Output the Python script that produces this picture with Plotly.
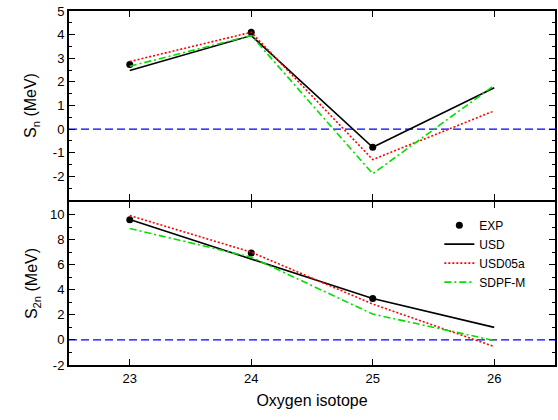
import plotly.graph_objects as go
from plotly.subplots import make_subplots

isotopes = [23, 24, 25, 26]
exp_iso = [23, 24, 25]

sn_exp = [2.74, 4.10, -0.77]
sn_usd = [2.48, 3.96, -0.77, 1.75]
sn_usd05a = [2.86, 4.10, -1.29, 0.77]
sn_sdpfm = [2.66, 3.96, -1.89, 1.85]

s2n_exp = [9.58, 6.93, 3.31]
s2n_usd = [9.60, 6.48, 3.30, 1.00]
s2n_usd05a = [9.92, 7.00, 2.86, -0.53]
s2n_sdpfm = [8.89, 6.60, 2.06, -0.05]

top_ticks = [5, 4, 3, 2, 1, 0, -1, -2]
bot_ticks = [10, 8, 6, 4, 2, 0, -2]
x_ticks = [23, 24, 25, 26]

fig = make_subplots(rows=2, cols=1, shared_xaxes=True, vertical_spacing=0)

FONT = "Liberation Sans, Arial, sans-serif"

def add_set(row, exp, usd, usd05a, sdpfm, show):
    fig.add_trace(go.Scatter(x=exp_iso, y=exp, mode="markers", name="EXP",
                             marker=dict(color="black", size=7),
                             showlegend=show, legendrank=1), row=row, col=1)
    fig.add_trace(go.Scatter(x=isotopes, y=usd, mode="lines", name="USD",
                             line=dict(color="black", width=1.6),
                             showlegend=show, legendrank=2), row=row, col=1)
    fig.add_trace(go.Scatter(x=isotopes, y=usd05a, mode="lines", name="USD05a",
                             line=dict(color="#ff0000", width=1.6, dash="2px,2px"),
                             showlegend=show, legendrank=3), row=row, col=1)
    fig.add_trace(go.Scatter(x=isotopes, y=sdpfm, mode="lines", name="SDPF-M",
                             line=dict(color="#00e000", width=1.6, dash="7px,3px,2px,3px"),
                             showlegend=show, legendrank=4), row=row, col=1)

add_set(1, sn_exp, sn_usd, sn_usd05a, sn_sdpfm, False)
add_set(2, s2n_exp, s2n_usd, s2n_usd05a, s2n_sdpfm, True)

for xr, yr in [("x domain", "y"), ("x2 domain", "y2")]:
    fig.add_shape(type="line", xref=xr, yref=yr, x0=0, x1=1, y0=0, y1=0,
                  line=dict(color="#0000ff", width=1.4, dash="8px,4px"), layer="below")

axis_common = dict(showline=True, linecolor="black", linewidth=2, mirror="allticks",
                   ticks="inside", tickcolor="black", showgrid=False, zeroline=False,
                   tickfont=dict(family=FONT, size=13, color="black"))

PH = 354.0
bot_top = 163 / PH
top_bot = 165 / PH

fig.update_xaxes(range=[22.5, 26.5], tickvals=x_ticks, ticklen=6, tickwidth=1.2, **axis_common)
fig.update_xaxes(showticklabels=False, row=1, col=1)
fig.update_xaxes(row=2, col=1, title=dict(text="Oxygen isotope", font=dict(family=FONT, size=16, color="black"), standoff=10))

fig.update_yaxes(row=1, col=1, range=[-3, 5], tickvals=top_ticks,
                 ticktext=[str(v) for v in top_ticks], ticklen=6, tickwidth=1.2,
                 minor=dict(ticks="inside", dtick=0.5, ticklen=3, tickcolor="black", showgrid=False),
                 title=dict(text="S<sub>n</sub> (MeV)", font=dict(family=FONT, size=16, color="black"), standoff=12),
                 domain=[top_bot, 1.0], **axis_common)
fig.update_yaxes(row=2, col=1, range=[-2, 11], tickvals=bot_ticks,
                 ticktext=[str(v) for v in bot_ticks], ticklen=6, tickwidth=1.2,
                 minor=dict(ticks="inside", dtick=1, ticklen=3, tickcolor="black", showgrid=False),
                 title=dict(text="S<sub>2n</sub> (MeV)", font=dict(family=FONT, size=16, color="black"), standoff=8),
                 domain=[0.0, bot_top], **axis_common)

fig.update_layout(
    width=558, height=420,
    margin=dict(l=69, r=1, t=11, b=55),
    paper_bgcolor="white", plot_bgcolor="rgba(0,0,0,0)",
    font=dict(family=FONT, color="black"),
    legend=dict(x=0.762, y=0.436, xanchor="left", yanchor="top",
                bgcolor="rgba(0,0,0,0)", font=dict(family=FONT, size=12, color="black"),
                tracegroupgap=0, itemwidth=30),
)

fig.write_html("out.html")
